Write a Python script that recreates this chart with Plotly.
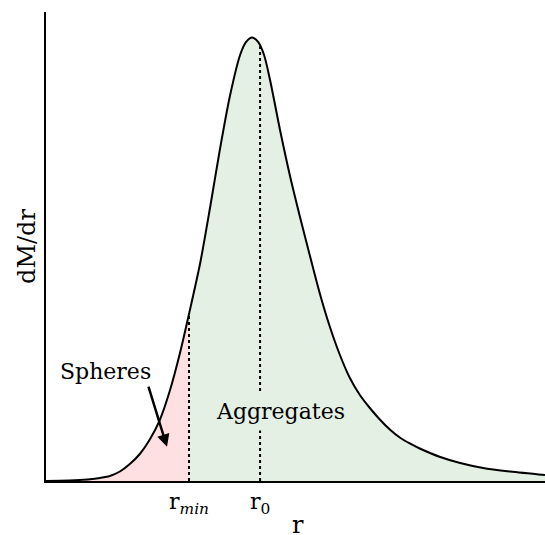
import numpy as np
import plotly.graph_objects as go

# curve samples (r in arbitrary units, dM/dr normalised to the peak)
r_vals = [0.00, 0.28, 0.58, 0.88, 1.08, 1.28, 1.48, 1.68, 1.88, 2.08, 2.28, 2.48, 2.68,
          2.866, 3.09, 3.29, 3.49, 3.69, 3.89, 4.01, 4.13, 4.25, 4.37, 4.49, 4.69, 4.89,
          5.09, 5.29, 5.49, 5.69, 5.89, 6.09, 6.29, 6.49, 6.69, 6.89, 7.09, 7.29, 7.49,
          7.90, 8.30, 8.76, 9.30, 10.00]
dm_vals = [0.0000, 0.0007, 0.0018, 0.0038, 0.0068, 0.0113, 0.0214, 0.0383, 0.0609,
           0.0936, 0.1375, 0.2029, 0.2864, 0.3766, 0.4915, 0.6178, 0.7508, 0.8703,
           0.9605, 0.9899, 1.0000, 0.9899, 0.9605, 0.9042, 0.7914, 0.6877, 0.5953,
           0.5073, 0.4217, 0.3472, 0.2841, 0.2322, 0.1939, 0.1646, 0.1387, 0.1161,
           0.0981, 0.0846, 0.0733, 0.0541, 0.0406, 0.0293, 0.0214, 0.0135]
r_min = 2.866
r_0 = 4.29
tick_vals = [r_min, r_0]
tick_text = ["r<sub><i>min</i></sub>", "r<sub>0</sub>"]

FONT = "DejaVu Serif"
PINK = "#ffe0e2"
GREEN = "#e4f0e4"

r_arr = np.array(r_vals)
d_arr = np.array(dm_vals)
left = r_arr <= r_min + 1e-9
right = r_arr >= r_min - 1e-9

fig = go.Figure()
fig.add_trace(go.Scatter(x=r_arr[left], y=d_arr[left], mode="lines",
                         line=dict(width=0, shape="spline", smoothing=0.8),
                         fill="tozeroy", fillcolor=PINK, hoverinfo="skip", showlegend=False))
fig.add_trace(go.Scatter(x=r_arr[right], y=d_arr[right], mode="lines",
                         line=dict(width=0, shape="spline", smoothing=0.8),
                         fill="tozeroy", fillcolor=GREEN, hoverinfo="skip", showlegend=False))

h_min = float(np.interp(r_min, r_arr, d_arr))
h_0 = float(np.interp(r_0, r_arr, d_arr))
for rv, hv in [(r_min, h_min), (r_0, h_0)]:
    fig.add_trace(go.Scatter(x=[rv, rv], y=[0, hv], mode="lines",
                             line=dict(color="black", width=2, dash="3px,3px"),
                             hoverinfo="skip", showlegend=False))

fig.add_trace(go.Scatter(x=r_vals, y=dm_vals, mode="lines",
                         line=dict(color="black", width=2, shape="spline", smoothing=0.8),
                         showlegend=False))

fig.add_annotation(x=1.202, y=0.248, text="Spheres", showarrow=False,
                   font=dict(family=FONT, size=22, color="black"))
fig.add_annotation(x=2.425, y=0.077, ax=2.044, ay=0.216, axref="x", ayref="y",
                   text="", showarrow=True, arrowhead=2, arrowsize=1, arrowwidth=2.5,
                   arrowcolor="black", standoff=0, startstandoff=0)
fig.add_annotation(x=4.69, y=0.156, text="Aggregates", showarrow=False,
                   bgcolor=GREEN, borderpad=6,
                   font=dict(family=FONT, size=22, color="black"))
# x-axis title placed as a paper-referenced label
fig.add_annotation(x=0.505, y=-0.094, xref="paper", yref="paper", text="r",
                   showarrow=False, xanchor="center", yanchor="middle", borderpad=0,
                   font=dict(family=FONT, size=24, color="black"))

fig.update_layout(
    width=545, height=535,
    margin=dict(l=46, r=0, t=12, b=54),
    paper_bgcolor="white", plot_bgcolor="white",
    font=dict(family=FONT, size=22, color="black"),
    xaxis=dict(range=[0, 10], showgrid=False, zeroline=False, showline=True,
               linecolor="black", linewidth=2, ticks="",
               tickvals=tick_vals, ticktext=tick_text,
               tickfont=dict(family=FONT, size=22), automargin=False),
    yaxis=dict(range=[0, 1.0575], showgrid=False, zeroline=False, showline=True,
               linecolor="black", linewidth=2, ticks="", showticklabels=False,
               automargin=False,
               title=dict(text="dM/dr", font=dict(family=FONT, size=24), standoff=2)),
)

fig.write_html("out.html", config={"displayModeBar": False},
               post_script="document.body.style.margin='0';")
